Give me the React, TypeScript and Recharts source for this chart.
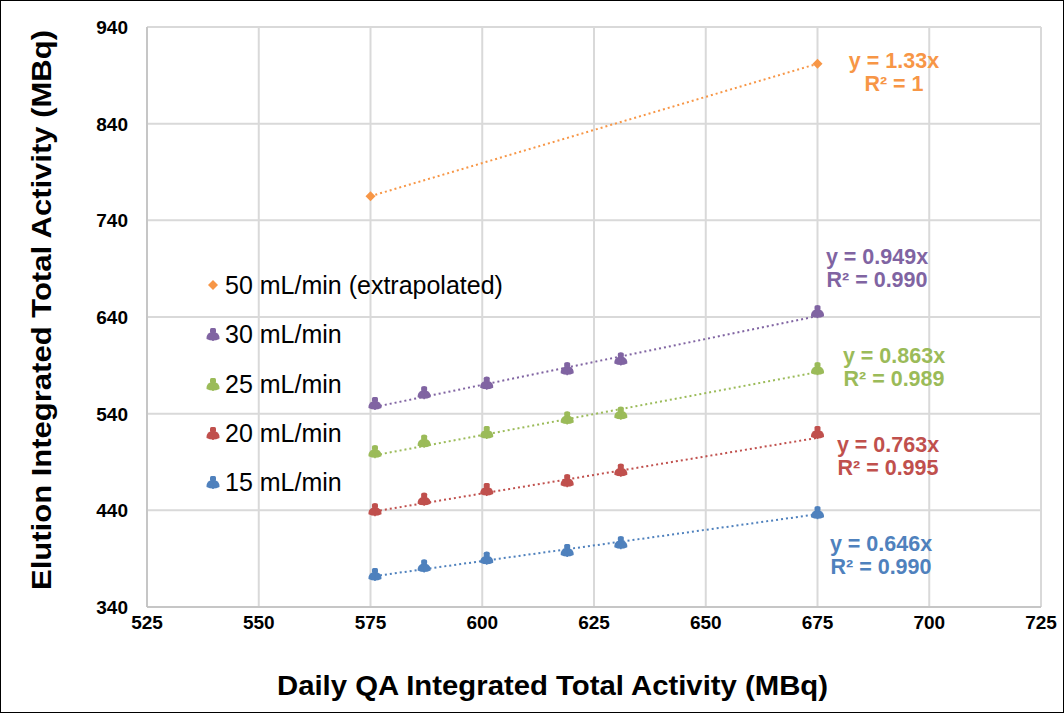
import React from "react";
import { ScatterChart, Scatter, XAxis, YAxis, CartesianGrid } from "recharts";

// x = Daily QA activity, y = elution activity (MBq)
const qaX = [576, 587, 601, 619, 631, 675];
const flow15 = [373, 382, 390, 398, 406, 437];
const flow20 = [440, 451, 461, 470, 481, 520];
const flow25 = [500, 511, 520, 535, 540, 586];
const flow30 = [550, 561, 571, 586, 596, 645];
const extrapX = [575, 675];
const flow50 = [765, 902];

// trendline end points (y = kx through origin, drawn from first to last x)
const trendX = [576, 675];
const trend15 = [372, 436];
const trend20 = [439, 515];
const trend25 = [497, 583];
const trend30 = [547, 641];

const xTicks = [525, 550, 575, 600, 625, 650, 675, 700, 725];
const yTicks = [340, 440, 540, 640, 740, 840, 940];

const legendLabels = [
  "50 mL/min (extrapolated)",
  "30 mL/min",
  "25 mL/min",
  "20 mL/min",
  "15 mL/min",
];
const equations = ["y = 1.33x", "y = 0.949x", "y = 0.863x", "y = 0.763x", "y = 0.646x"];
const rSquared = ["R² = 1", "R² = 0.990", "R² = 0.989", "R² = 0.995", "R² = 0.990"];

const COLORS = ["#F79646", "#8064A2", "#9BBB59", "#C0504D", "#4F81BD"];
const FONT = "'Liberation Sans', Arial, sans-serif";

// annotation centres (pixels)
const eqPos = [
  { x: 894, y: 62 },
  { x: 877, y: 258 },
  { x: 894, y: 357 },
  { x: 888, y: 446 },
  { x: 881, y: 545 },
];

const zip = (xs: number[], ys: number[]) => xs.map((x, i) => ({ x, y: ys[i] }));

const Marker = (props: any) => {
  const { cx, cy, fill } = props;
  if (cx == null || cy == null) return <g />;
  return (
    <g>
      <path
        d={`M${cx - 6.5},${cy + 4} Q${cx - 7},${cy - 1} ${cx - 2},${cy - 3} L${cx + 2},${cy - 3} Q${cx + 7},${cy - 1} ${cx + 6.5},${cy + 4} Q${cx},${cy + 7} ${cx - 6.5},${cy + 4} Z`}
        fill={fill}
      />
      <rect x={cx - 3} y={cy - 7} width={6} height={5} rx={1.5} fill={fill} />
      <line x1={cx} y1={cy - 7} x2={cx} y2={cy + 6} stroke={fill} strokeWidth={1.5} />
    </g>
  );
};

const Diamond = (props: any) => {
  const { cx, cy, fill } = props;
  if (cx == null || cy == null) return <g />;
  return <path d={`M${cx},${cy - 5} L${cx + 5},${cy} L${cx},${cy + 5} L${cx - 5},${cy} Z`} fill={fill} />;
};

const Nothing = () => <g />;

const dotted = (color: string) => ({
  stroke: color,
  strokeWidth: 2,
  strokeDasharray: "2 3",
});

const XTick = (props: any) => {
  const { x, y, payload } = props;
  return (
    <text x={x} y={y + 14} textAnchor="middle" fontSize={19} fontWeight={700} fontFamily={FONT} fill="#000">
      {payload.value}
    </text>
  );
};

const YTick = (props: any) => {
  const { y, payload } = props;
  return (
    <text x={128} y={y + 7} textAnchor="end" fontSize={19} fontWeight={700} fontFamily={FONT} fill="#000">
      {payload.value}
    </text>
  );
};

export default function App() {
  const points = [zip(extrapX, flow50), zip(qaX, flow30), zip(qaX, flow25), zip(qaX, flow20), zip(qaX, flow15)];
  const trends = [zip(extrapX, flow50), zip(trendX, trend30), zip(trendX, trend25), zip(trendX, trend20), zip(trendX, trend15)];
  const legendCenters = [285, 334, 384, 433, 482];

  return (
    <div style={{ position: "relative", width: 1064, height: 713, fontFamily: FONT, background: "#fff" }}>
      <style>{`body{margin:0}`}</style>
      <ScatterChart width={1064} height={713} margin={{ top: 27, right: 23, left: 0, bottom: 0 }}>
        <CartesianGrid stroke="#D9D9D9" strokeWidth={2} />
        <XAxis
          type="number"
          dataKey="x"
          domain={[525, 725]}
          ticks={xTicks}
          height={106}
          tickLine={false}
          axisLine={{ stroke: "#BFBFBF", strokeWidth: 1.5 }}
          tick={<XTick />}
          allowDataOverflow
        />
        <YAxis
          type="number"
          dataKey="y"
          domain={[340, 940]}
          ticks={yTicks}
          width={147}
          tickLine={false}
          axisLine={{ stroke: "#BFBFBF", strokeWidth: 1.5 }}
          tick={<YTick />}
          allowDataOverflow
        />
        {trends.map((d, i) => (
          <Scatter
            key={"t" + i}
            data={d}
            fill={COLORS[i]}
            line={dotted(COLORS[i])}
            shape={Nothing}
            isAnimationActive={false}
          />
        ))}
        {points.map((d, i) => (
          <Scatter
            key={"p" + i}
            data={d}
            fill={COLORS[i]}
            shape={i === 0 ? Diamond : Marker}
            isAnimationActive={false}
          />
        ))}
      </ScatterChart>

      {/* axis titles */}
      <svg width={1064} height={713} style={{ position: "absolute", left: 0, top: 0, pointerEvents: "none" }}>
        <text
          x={277}
          y={695}
          fontSize={28}
          fontWeight={700}
          fontFamily={FONT}
          fill="#000"
          textLength={551}
          lengthAdjust="spacingAndGlyphs"
        >
          Daily QA Integrated Total Activity (MBq)
        </text>
        <text
          x={0}
          y={0}
          transform="translate(51,590) rotate(-90)"
          fontSize={28}
          fontWeight={700}
          fontFamily={FONT}
          fill="#000"
          textLength={560}
          lengthAdjust="spacingAndGlyphs"
        >
          Elution Integrated Total Activity (MBq)
        </text>
      </svg>

      {legendLabels.map((label, i) => (
        <div key={label} style={{ position: "absolute", left: 204, top: legendCenters[i] - 15, height: 30, display: "flex", alignItems: "center" }}>
          <svg width={18} height={18} style={{ marginRight: 3 }}>
            {i === 0 ? <Diamond cx={9} cy={9} fill={COLORS[i]} /> : <Marker cx={9} cy={10} fill={COLORS[i]} />}
          </svg>
          <span style={{ fontSize: 25, color: "#000", lineHeight: "30px", whiteSpace: "nowrap" }}>{label}</span>
        </div>
      ))}

      {equations.map((eq, i) => (
        <div
          key={eq}
          style={{
            position: "absolute",
            left: eqPos[i].x - 80,
            top: eqPos[i].y - 12,
            width: 160,
            textAlign: "center",
            color: COLORS[i],
            fontSize: 21.5,
            fontWeight: 700,
            lineHeight: "23px",
          }}
        >
          <div>{eq}</div>
          <div>{rSquared[i]}</div>
        </div>
      ))}

      <div style={{ position: "absolute", left: 0, top: 0, width: 1064, height: 713, boxSizing: "border-box", border: "1px solid #000", pointerEvents: "none" }} />
    </div>
  );
}
